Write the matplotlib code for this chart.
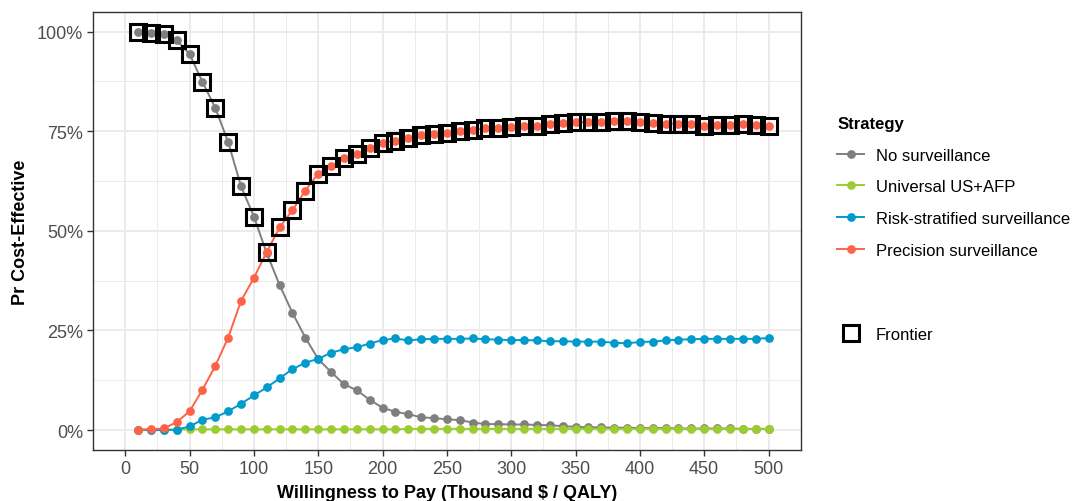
import matplotlib
matplotlib.use("Agg")
import matplotlib.pyplot as plt
from matplotlib.lines import Line2D
from matplotlib.ticker import MultipleLocator, FuncFormatter
import numpy as np

plt.rcParams['font.family'] = ['Liberation Sans', 'DejaVu Sans']

# willingness to pay (thousand $ / QALY)
wtp = list(range(10, 510, 10))

# probability cost-effective (%)
no_surv = [99.9, 99.7, 99.4, 97.8, 94.4, 87.4, 80.9, 72.3, 61.2, 53.6,
           44.4, 36.4, 29.4, 23.2, 17.8, 14.6, 11.5, 10.0, 7.6, 5.6,
           4.6, 4.0, 3.2, 3.0, 2.7, 2.5, 1.9, 1.5, 1.5, 1.4,
           1.4, 1.3, 1.2, 1.0, 0.8, 0.7, 0.7, 0.6, 0.6, 0.5,
           0.5, 0.5, 0.4, 0.4, 0.4, 0.4, 0.4, 0.3, 0.3, 0.3]
universal = [0.1, 0.1, 0.1, 0.1, 0.2, 0.2, 0.2, 0.2, 0.2, 0.2,
             0.2, 0.2, 0.2, 0.2, 0.2, 0.2, 0.2, 0.2, 0.2, 0.2,
             0.2, 0.3, 0.3, 0.3, 0.3, 0.3, 0.3, 0.3, 0.3, 0.3,
             0.3, 0.3, 0.3, 0.3, 0.3, 0.3, 0.3, 0.3, 0.3, 0.3,
             0.3, 0.3, 0.3, 0.3, 0.3, 0.3, 0.3, 0.3, 0.3, 0.3]
risk_strat = [0.0, 0.0, 0.0, 0.1, 0.9, 2.6, 3.2, 4.7, 6.6, 8.7,
              10.7, 13.0, 15.3, 16.9, 17.9, 19.4, 20.3, 20.8, 21.7, 22.6,
              23.0, 22.5, 22.8, 22.9, 22.9, 22.9, 23.0, 22.8, 22.7, 22.6,
              22.6, 22.5, 22.3, 22.3, 22.2, 22.2, 22.2, 21.9, 21.8, 22.1,
              22.2, 22.5, 22.7, 22.8, 22.9, 22.9, 22.9, 22.9, 22.9, 23.1]
precision = [0.1, 0.2, 0.4, 2.0, 4.7, 10.1, 16.1, 23.2, 32.4, 38.2,
             44.7, 50.9, 55.2, 60.1, 64.4, 66.2, 68.3, 69.2, 70.8, 72.1,
             72.6, 73.4, 74.0, 74.2, 74.5, 75.1, 75.4, 75.7, 75.9, 76.1,
             76.2, 76.3, 76.8, 77.2, 77.3, 77.3, 77.3, 77.5, 77.7, 77.4,
             77.2, 76.9, 76.9, 76.8, 76.4, 76.5, 76.5, 76.9, 76.5, 76.3]

labels = ["No surveillance", "Universal US+AFP",
          "Risk-stratified surveillance", "Precision surveillance"]
colors = ["#7f7f7f", "#9acd32", "#009acd", "#ff6347"]
series = [no_surv, universal, risk_strat, precision]

fig = plt.figure(figsize=(10.82, 5.02), dpi=100)
ax = fig.add_axes([0.086, 0.1016, 0.654, 0.873])

# draw order: grey, blue, green, red (red on top)
for i in [0, 2, 1, 3]:
    ax.plot(wtp, series[i], color=colors[i], lw=1.4, marker="o",
            markersize=6.3, markeredgewidth=0, zorder=3 + i * 0.1)

# frontier = strategy with highest probability at each WTP
stack = np.array(series)
front = stack.max(axis=0)
ax.plot(wtp, front, linestyle="none", marker="s", markersize=12,
        markerfacecolor="none", markeredgecolor="black",
        markeredgewidth=2.2, zorder=5)

ax.set_xlim(-25, 525)
ax.set_ylim(-5, 105)
ax.xaxis.set_major_locator(MultipleLocator(50))
ax.xaxis.set_minor_locator(MultipleLocator(25))
ax.yaxis.set_major_locator(MultipleLocator(25))
ax.yaxis.set_minor_locator(MultipleLocator(12.5))
ax.yaxis.set_major_formatter(FuncFormatter(lambda v, p: f"{v:.0f}%"))

ax.grid(which="major", color="#ebebeb", lw=1.4, zorder=0)
ax.grid(which="minor", color="#ebebeb", lw=0.7, zorder=0)
ax.set_axisbelow(True)
for s in ax.spines.values():
    s.set_color("#333333")
    s.set_linewidth(1.0)
ax.tick_params(which="major", length=4, width=1, color="#333333",
               labelsize=13, labelcolor="#4d4d4d", pad=3)
ax.tick_params(which="minor", length=0)

ax.set_xlabel("Willingness to Pay (Thousand $ / QALY)", fontsize=13,
              fontweight="bold", labelpad=5)
ax.set_ylabel("Pr Cost-Effective", fontsize=13, fontweight="bold",
              labelpad=6)

handles = [Line2D([], [], color=colors[i], lw=1.4, marker="o",
                  markersize=6.3, markeredgewidth=0) for i in range(4)]
leg1 = fig.legend(handles, labels, title="Strategy", loc="upper left",
                  bbox_to_anchor=(0.760, 0.797), frameon=False, fontsize=12,
                  title_fontproperties={"weight": "bold", "size": 12},
                  alignment="left", handlelength=1.6, handletextpad=0.7,
                  labelspacing=1.0)
sq = Line2D([], [], linestyle="none", marker="s", markersize=12,
            markerfacecolor="none", markeredgecolor="black",
            markeredgewidth=2.2)
leg2 = fig.legend([sq], ["Frontier"], loc="upper left",
                  bbox_to_anchor=(0.760, 0.377), frameon=False, fontsize=12,
                  handlelength=1.6, handletextpad=0.7)

fig.savefig("out.png", dpi=100)
